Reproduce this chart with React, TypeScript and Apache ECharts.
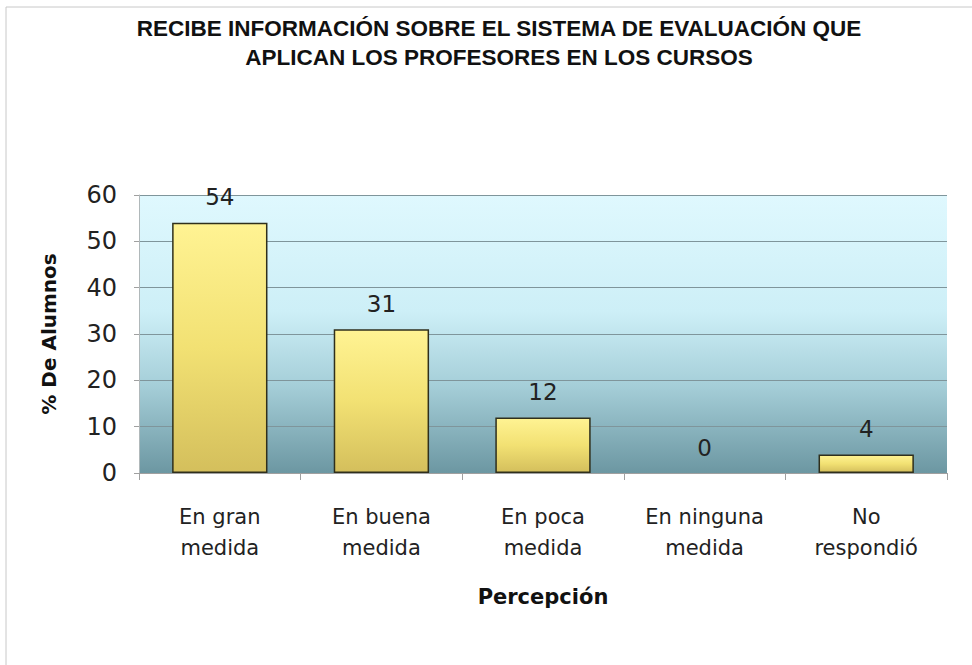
import React, { useEffect, useRef } from "react";
import * as echarts from "echarts";

const titleLines = [
  "RECIBE INFORMACIÓN SOBRE EL SISTEMA DE EVALUACIÓN QUE",
  "APLICAN LOS PROFESORES EN LOS CURSOS",
];
const categories = [
  "En gran\nmedida",
  "En buena\nmedida",
  "En poca\nmedida",
  "En ninguna\nmedida",
  "No\nrespondió",
];
const values = [54, 31, 12, 0, 4];
const yTicks = { min: 0, max: 60, interval: 10 };
const yName = "% De Alumnos";
const xName = "Percepción";

export default function App() {
  const ref = useRef<HTMLDivElement>(null);
  useEffect(() => {
    if (!ref.current) return;
    const chart = echarts.init(ref.current, undefined, { renderer: "svg" });
    const font = "'DejaVu Sans', Verdana, sans-serif";
    chart.setOption({
      animation: false,
      backgroundColor: "#ffffff",
      title: {
        text: titleLines.join("\n"),
        left: 494,
        textAlign: "center",
        top: 9,
        textStyle: {
          fontFamily: "'Liberation Sans', Arial, sans-serif",
          fontWeight: "bold",
          fontSize: 22.5,
          lineHeight: 29,
          color: "#111",
        },
      },
      graphic: [
        { type: "line", shape: { x1: 6, y1: 7, x2: 972, y2: 7 }, style: { stroke: "#c8c8c8", lineWidth: 1 } },
        { type: "line", shape: { x1: 6, y1: 7, x2: 6, y2: 665 }, style: { stroke: "#c8c8c8", lineWidth: 1 } },
      ],
      grid: {
        left: 139,
        right: 25,
        top: 195,
        bottom: 192,
        show: true,
        borderWidth: 0,
        backgroundColor: new echarts.graphic.LinearGradient(0, 0, 0, 1, [
          { offset: 0, color: "#dff8fe" },
          { offset: 0.42, color: "#cdeff7" },
          { offset: 0.68, color: "#a6cfd9" },
          { offset: 1, color: "#6c97a2" },
        ]),
      },
      xAxis: {
        type: "category",
        data: categories,
        name: xName,
        nameLocation: "middle",
        nameGap: 113,
        nameTextStyle: { fontFamily: font, fontWeight: "bold", fontSize: 21, color: "#111" },
        axisLine: { show: true, lineStyle: { color: "#a0a0a0", width: 1 } },
        axisTick: { show: true, length: 7, alignWithLabel: false, lineStyle: { color: "#a0a0a0" } },
        axisLabel: {
          fontFamily: font,
          fontSize: 21,
          lineHeight: 31,
          color: "#222",
          margin: 28,
          interval: 0,
        },
      },
      yAxis: {
        type: "value",
        min: yTicks.min,
        max: yTicks.max,
        interval: yTicks.interval,
        name: yName,
        nameLocation: "middle",
        nameGap: 80,
        nameTextStyle: { fontFamily: font, fontWeight: "bold", fontSize: 20, color: "#111" },
        axisLine: { show: true, lineStyle: { color: "#b0b8ba", width: 1 } },
        axisTick: { show: true, length: 5, lineStyle: { color: "#a0a0a0" } },
        axisLabel: { fontFamily: font, fontSize: 24, color: "#222", margin: 22 },
        splitLine: { show: true, lineStyle: { color: "#7f959b", width: 1 } },
      },
      series: [
        {
          type: "bar",
          data: values.map((v) => (v === 0 ? { value: v, itemStyle: { borderWidth: 0 } } : v)),
          barWidth: "59%",
          itemStyle: {
            color: new echarts.graphic.LinearGradient(0, 0, 0, 1, [
              { offset: 0, color: "#fff393" },
              { offset: 0.5, color: "#f2e173" },
              { offset: 1, color: "#d4bf5c" },
            ]),
            borderColor: "#2f2f1c",
            borderWidth: 1.5,
          },
          label: {
            show: true,
            position: "top",
            distance: 14,
            fontFamily: font,
            fontSize: 23,
            color: "#222",
          },
        },
      ],
    });
    return () => chart.dispose();
  }, []);
  return (
    <div
      ref={ref}
      style={{ position: "fixed", left: 0, top: 0, width: 972, height: 665 }}
    />
  );
}
